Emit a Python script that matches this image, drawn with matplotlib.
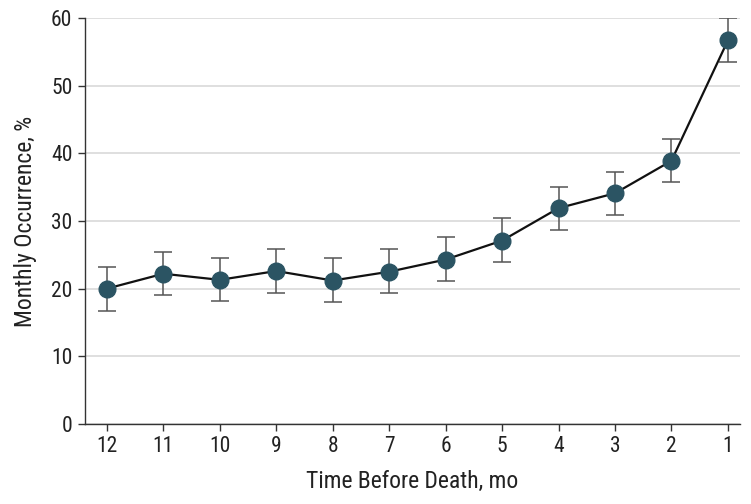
import numpy as np
import matplotlib
matplotlib.use("Agg")
import matplotlib.pyplot as plt
from matplotlib import font_manager

# schmale Schrift suchen, sonst DejaVu
installed = set(f.name for f in font_manager.fontManager.ttflist)
wanted = ['Roboto Condensed', 'Fira Sans Condensed', 'Encode Sans Semi Condensed',
          'Asap Condensed', 'PT Sans Narrow', 'Liberation Sans Narrow']
family = [n for n in wanted if n in installed][:1] + ['DejaVu Sans']
plt.rcParams['font.family'] = family

# Monate vor dem Tod, Anteil in %
months     = [12, 11, 10, 9, 8, 7, 6, 5, 4, 3, 2, 1]
occurrence = [20.0, 22.2, 21.3, 22.6, 21.2, 22.5, 24.3, 27.1, 31.9, 34.1, 38.9, 56.7]
ci_upper   = [23.2, 25.4, 24.6, 25.8, 24.5, 25.8, 27.6, 30.4, 35.1, 37.3, 42.2, 60.0]
ci_lower   = [16.7, 19.0, 18.2, 19.3, 18.0, 19.3, 21.1, 23.9, 28.7, 30.9, 35.7, 53.5]

y_ticks = [0, 10, 20, 30, 40, 50, 60]

occ = np.array(occurrence)
yerr = [occ - np.array(ci_lower), np.array(ci_upper) - occ]

fig = plt.figure(figsize=(7.51, 5.04), dpi=100)
ax = fig.add_axes([0.113, 0.159, 0.872, 0.805])

ax.errorbar(months, occurrence, yerr=yerr, fmt='none',
            ecolor='#555555', elinewidth=1.1, capsize=6.5, capthick=1.1, zorder=2)
ax.plot(months, occurrence, color='#111111', lw=1.6, zorder=3)
ax.plot(months, occurrence, 'o', color='#2b5463', markersize=12, zorder=4)

ax.set_xlim(12.39, 0.79)
ax.set_ylim(0, 60)
ax.set_xticks(months)
ax.set_yticks(y_ticks)
ax.yaxis.grid(True, color='#dcdcdc', lw=1.3)
ax.set_axisbelow(True)

for s in ['top', 'right']:
    ax.spines[s].set_visible(False)
for s in ['left', 'bottom']:
    ax.spines[s].set_color('#333333')
    ax.spines[s].set_linewidth(1.0)

ax.tick_params(axis='both', colors='#333333', labelsize=15.5, length=5, width=1.0,
               labelcolor='#222222', pad=4)
ax.set_xlabel('Time Before Death, mo', fontsize=17, color='#222222', labelpad=9)
ax.set_ylabel('Monthly Occurrence, %', fontsize=17, color='#222222', labelpad=10)

fig.savefig('out.png', dpi=100)
